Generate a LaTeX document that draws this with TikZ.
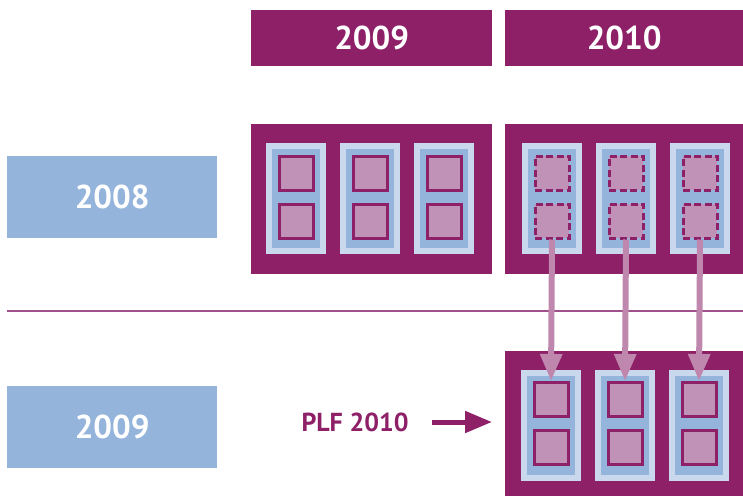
\documentclass[tikz,border=0pt]{standalone}
\usepackage{fontspec}
\setsansfont{PT Sans}
\usepackage{tikz}
\usetikzlibrary{arrows.meta,positioning,calc}
\definecolor{plum}{RGB}{142,32,104}
\definecolor{skyblue}{RGB}{148,180,220}
\definecolor{paleblue}{RGB}{202,216,238}
\definecolor{mauve}{RGB}{192,146,184}
\definecolor{mauvearrow}{RGB}{191,135,174}
\definecolor{rulecol}{RGB}{160,80,138}
\tikzset{
  head/.style={fill=plum,text=white,anchor=north west,inner sep=0pt,
    minimum height=56pt,font=\sffamily\bfseries\fontsize{33}{33}\selectfont},
  yearbox/.style={fill=skyblue,text=white,anchor=north west,inner sep=0pt,
    minimum width=210pt,minimum height=82pt,
    font=\sffamily\bfseries\fontsize{33}{33}\selectfont},
  panel/.style={fill=plum,anchor=north west,inner sep=0pt},
  col/.style={fill=paleblue,inner sep=0pt,minimum width=60pt,minimum height=111pt},
  colin/.style={fill=skyblue,inner sep=0pt,minimum width=48pt,minimum height=99pt},
  slot/.style={draw=plum,fill=mauve,line width=3pt,inner sep=0pt,minimum size=34pt},
  slotdash/.style={slot,dash pattern=on 7pt off 3.5pt},
  moveto/.style={draw=mauvearrow,line width=6pt,-{Triangle[width=21pt,length=27pt]}},
  plfarrow/.style={draw=plum,line width=5pt,-{Triangle[width=21pt,length=27pt]}}
}
\begin{document}
\begin{tikzpicture}[x=1pt,y=-1pt]
  \useasboundingbox (0,0) rectangle (743,496);
  % year headers
  \node[head,minimum width=241pt] (h09) at (251,10) {2009};
  \node[head,minimum width=238pt] (h10) at (505,10) {2010};
  % row labels
  \node[yearbox] (y08) at (7,156) {2008};
  \node[yearbox] (y09) at (7,386) {2009};
  % separator
  \draw[rulecol,line width=1.2pt] (7,311) -- (743,311);
  % panels
  \node[panel,minimum width=241pt,minimum height=150pt] (panelA) at (251,124) {};
  \node[panel,minimum width=238pt,minimum height=150pt] (panelB) at (505,124) {};
  \node[panel,minimum width=238pt,minimum height=145pt] (panelC) at (505,351) {};
  % 2008 / 2009 columns
  \foreach \i/\x in {1/296,2/370,3/444}{
    \node[col] (colA\i) at (\x,198.5) {};
    \node[colin] at (colA\i) {};
    \node[slot] (sqA\i a) at (\x,173) {};
    \node[slot] (sqA\i b) at (\x,221) {};
  }
  % 2008 / 2010 columns (dashed)
  \foreach \i/\x in {1/552,2/626,3/700}{
    \node[col] (colB\i) at (\x,198.5) {};
    \node[colin] at (colB\i) {};
    \node[slotdash] (sqB\i a) at (\x,173) {};
    \node[slotdash] (sqB\i b) at (\x,221) {};
  }
  % 2009 / 2010 columns
  \foreach \i/\x in {1/551,2/625,3/699}{
    \node[col] (colC\i) at (\x,425) {};
    \node[colin] at (colC\i) {};
    \node[slot] (sqC\i a) at (\x,399.5) {};
    \node[slot] (sqC\i b) at (\x,447.5) {};
  }
  % moves
  \foreach \i in {1,2,3}{
    \draw[moveto] (sqB\i b.south) -- (sqC\i a.north);
  }
  % PLF 2010
  \node[text=plum,font=\sffamily\bfseries\fontsize{26}{26}\selectfont] (plf) at (355,422) {PLF 2010};
  \draw[plfarrow,shorten <=20pt,shorten >=13pt] (plf.east) -- (panelC.west |- plf.east);
\end{tikzpicture}
\end{document}
